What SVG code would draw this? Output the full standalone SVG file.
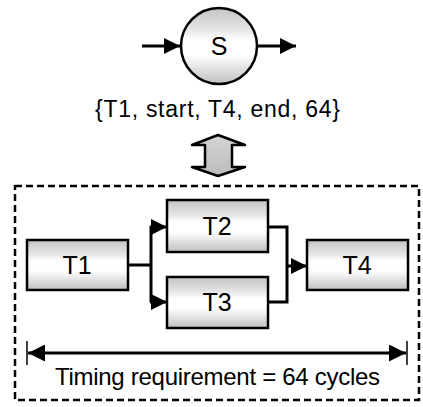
<svg xmlns="http://www.w3.org/2000/svg" width="423" height="407" viewBox="0 0 423 407">
<defs>
<linearGradient id="g" x1="0" y1="0" x2="0" y2="1">
<stop offset="0" stop-color="#c4c4c4"/>
<stop offset="0.28" stop-color="#e4e4e4"/>
<stop offset="0.42" stop-color="#ffffff"/>
<stop offset="0.62" stop-color="#ffffff"/>
<stop offset="0.8" stop-color="#e0e0e0"/>
<stop offset="1" stop-color="#c0c0c0"/>
</linearGradient>
<linearGradient id="ga" x1="0" y1="0" x2="0" y2="1">
<stop offset="0" stop-color="#d4d4d4"/>
<stop offset="1" stop-color="#bcbcbc"/>
</linearGradient>
<marker id="ah" viewBox="0 0 10 10" refX="10" refY="5" markerWidth="16" markerHeight="16" markerUnits="userSpaceOnUse" orient="auto">
<path d="M0,0 L10,5 L0,10 z" fill="#000"/>
</marker>
<marker id="ahs" viewBox="0 0 10 10" refX="10" refY="5" markerWidth="17" markerHeight="17" markerUnits="userSpaceOnUse" orient="auto-start-reverse">
<path d="M0,0 L10,5 L0,10 z" fill="#000"/>
</marker>
</defs>
<style>
.box{fill:url(#g);stroke:#000;stroke-width:2.5}
.lbl{font-family:"Liberation Sans",Arial,sans-serif;font-size:25px;fill:#000;text-anchor:middle}
.conn{fill:none;stroke:#000;stroke-width:3}
</style>
<g id="connectors">
<line class="conn" x1="142" y1="46" x2="180" y2="46" marker-end="url(#ah)"/>
<line class="conn" x1="258" y1="46" x2="296" y2="46" marker-end="url(#ah)"/>
<polyline class="conn" points="128,265 151,265"/>
<polyline class="conn" points="151,226 151,302"/>
<line class="conn" x1="150" y1="227" x2="167" y2="227" marker-end="url(#ah)"/>
<line class="conn" x1="150" y1="302" x2="167" y2="302" marker-end="url(#ah)"/>
<polyline class="conn" points="268,227 287,227 287,302 268,302"/>
<line class="conn" x1="287" y1="266" x2="307" y2="266" marker-end="url(#ah)"/>
</g>
<g id="S">
<circle cx="219" cy="46" r="38" fill="url(#g)" stroke="#000" stroke-width="2.5"/>
<text class="lbl" x="219" y="55">S</text>
</g>
<text id="constraint" x="95" y="117" font-family="'Liberation Sans',Arial,sans-serif" font-size="23" textLength="245" lengthAdjust="spacing">{T1, start, T4, end, 64}</text>
<g id="doublearrow">
<polygon points="218,135 245,145 232,145 232,167 245,167 218,176 192,167 205,167 205,145 192,145" fill="url(#ga)" stroke="#000" stroke-width="2.5" stroke-linejoin="round"/>
</g>
<g id="group">
<rect x="15" y="186" width="404" height="214" fill="none" stroke="#000" stroke-width="2.5" stroke-dasharray="7,4"/>
</g>
<g id="T1">
<rect class="box" x="27" y="240" width="101" height="50"/>
<text class="lbl" x="77" y="274">T1</text>
</g>
<g id="T2">
<rect class="box" x="167" y="200" width="101" height="52"/>
<text class="lbl" x="217" y="235">T2</text>
</g>
<g id="T3">
<rect class="box" x="167" y="277" width="101" height="51"/>
<text class="lbl" x="217" y="311">T3</text>
</g>
<g id="T4">
<rect class="box" x="307" y="240" width="101" height="50"/>
<text class="lbl" x="357" y="274">T4</text>
</g>
<g id="timing">
<line x1="27" y1="341" x2="27" y2="365" stroke="#000" stroke-width="1.5"/>
<line x1="407" y1="341" x2="407" y2="365" stroke="#000" stroke-width="1.5"/>
<line class="conn" x1="28" y1="353" x2="406" y2="353" marker-start="url(#ahs)" marker-end="url(#ahs)"/>
<text x="55" y="385" font-family="'Liberation Sans',Arial,sans-serif" font-size="24" textLength="325" lengthAdjust="spacing">Timing requirement = 64 cycles</text>
</g>
</svg>
